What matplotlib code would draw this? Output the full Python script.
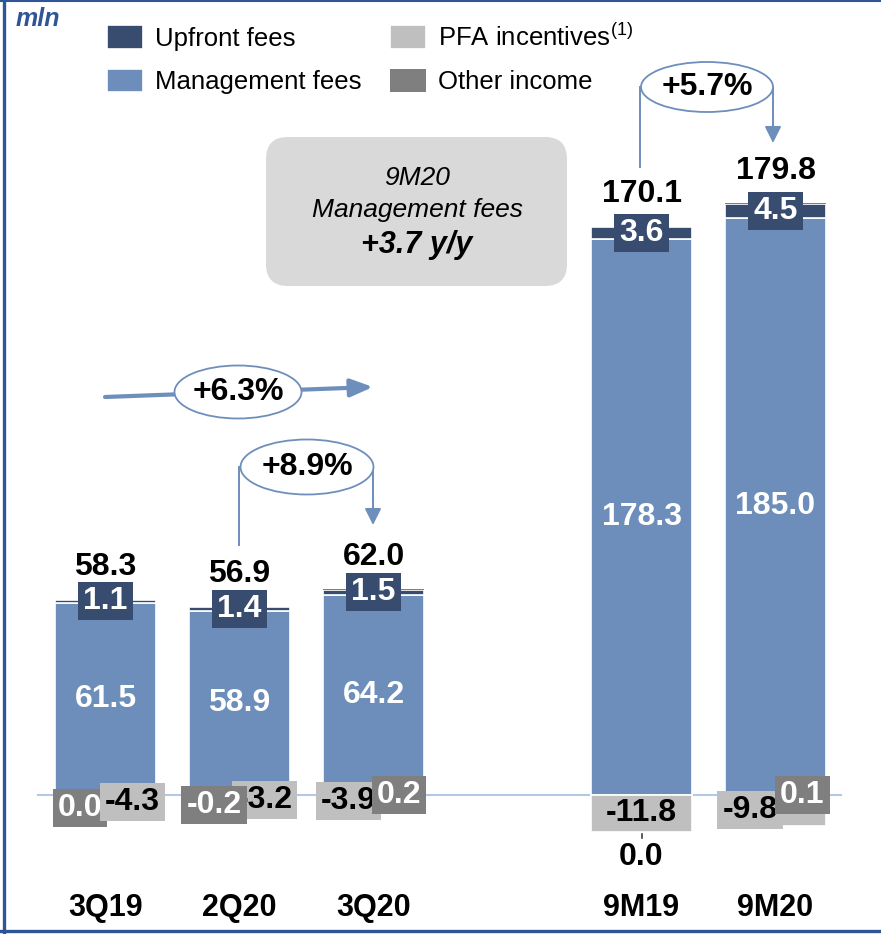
import matplotlib.pyplot as plt
from matplotlib.patches import Ellipse, FancyBboxPatch, Rectangle

plt.rcParams['font.family'] = ['Liberation Sans', 'DejaVu Sans']
plt.rcParams['mathtext.fontset'] = 'custom'
plt.rcParams['mathtext.rm'] = 'Liberation Sans'

# revenue breakdown, mln
periods = ['3Q19', '2Q20', '3Q20', '9M19', '9M20']
positions = [0, 1, 2, 4, 5]
management = [61.5, 58.9, 64.2, 178.3, 185.0]
upfront = [1.1, 1.4, 1.5, 3.6, 4.5]
pfa = [-4.3, -3.2, -3.9, -11.8, -9.8]
other = [0.0, -0.2, 0.2, 0.0, 0.1]
totals = [round(m + u + p + o, 1) for m, u, p, o in zip(management, upfront, pfa, other)]

growth_q = '+6.3%'
growth_qq = '+8.9%'
growth_9m = '+5.7%'

c_up = '#374C6E'
c_mgmt = '#6D8EBA'
c_pfa = '#BFBFBF'
c_other = '#7F7F7F'
c_arrow = '#6E8EBB'
c_base = '#B4C7E7'
c_frame = '#2F5597'

W, H = 881, 934
fig = plt.figure(figsize=(W / 100, H / 100), dpi=100)
ax = fig.add_axes([0, 0, 1, 1])
step, ppu, x0, base = 134, 3.12, 105.5, 795
ax.set_xlim(-x0 / step, (W - x0) / step)
ax.set_ylim(-(H - base) / ppu, base / ppu)
ax.axis('off')

bw = 0.754
ax.axhline(0, xmin=38 / W, xmax=841 / W, color=c_base, lw=1.5, zorder=0)
b_mgmt = ax.bar(positions, management, bw, color=c_mgmt, edgecolor='white', lw=1.2, zorder=2)
b_up = ax.bar(positions, upfront, bw, bottom=management, color=c_up, edgecolor='white', lw=1.2, zorder=2)
b_pfa = ax.bar(positions, pfa, bw, color=c_pfa, edgecolor='white', lw=1.2, zorder=2)
other_bottom = [p if o <= 0 else m + u for m, u, p, o in zip(management, upfront, pfa, other)]
b_other = ax.bar(positions, other, bw, bottom=other_bottom, color=c_other, edgecolor='none', zorder=2)

boxes = []


def label(x, y, s, color, fc=None, z=5):
    t = ax.text(x, y, s, ha='center', va='center', fontsize=23, fontweight='bold',
                color=color, zorder=z + 0.5)
    if fc:
        boxes.append((t, fc, z))
    return t


pfa_dx = [0.2, 0.19, -0.19, 0, -0.19]
other_dx = [-0.19, -0.19, 0.19, 0, 0.2]
other_z = [4, 6, 6, 6, 6]

for i, x in enumerate(positions):
    m, u, p, o = management[i], upfront[i], pfa[i], other[i]
    label(x, m + u + 10.6, f'{totals[i]:.1f}', 'black')
    label(x, m / 2, f'{m:.1f}', 'white')
    label(x, m + u / 2, f'{u:.1f}', 'white', c_up)
    if i == 3:
        label(x, p / 2, f'{p:.1f}', 'black')
        label(x, p - 8.1, f'{o:.1f}', 'black')
        ax.plot([x, x], [p - 0.6, p - 1.9], color='#404040', lw=1.2)
    else:
        label(x + pfa_dx[i], p / 2, f'{p:.1f}', 'black', c_pfa, 5)
        oy = p + o / 2 if o <= 0 else o / 2
        label(x + other_dx[i], oy, f'{o:.1f}', 'white', c_other, other_z[i])
    ax.text(x, -(908 - base) / ppu, periods[i], ha='center', va='center',
            fontsize=22, fontweight='bold', color='black')

# boxes behind the value labels, sized from the rendered text
fig.canvas.draw()
renderer = fig.canvas.get_renderer()
inv = ax.transData.inverted()
for t, fc, z in boxes:
    bb = t.get_window_extent(renderer)
    (ax0, ay0) = inv.transform((bb.x0 - 5, bb.y0 - 4))
    (ax1, ay1) = inv.transform((bb.x1 + 5, bb.y1 + 4))
    ax.add_patch(Rectangle((ax0, ay0), ax1 - ax0, ay1 - ay0, facecolor=fc,
                           edgecolor='none', zorder=z))

leg = ax.legend([b_up, b_mgmt, b_pfa, b_other],
                ['Upfront fees', 'Management fees', r'PFA incentives$^{\rm (1)}$', 'Other income'],
                ncol=2, loc='upper left', bbox_to_anchor=(107 / W, 1 - 23 / H),
                bbox_transform=fig.transFigure, frameon=False, fontsize=18.5,
                borderpad=0, borderaxespad=0, handlelength=1.4, handleheight=1.01,
                handletextpad=0.47, columnspacing=1.09, labelspacing=0.7)

# overlay in pixel units for frame and callouts
ov = fig.add_axes([0, 0, 1, 1])
ov.set_xlim(0, W)
ov.set_ylim(H, 0)
ov.axis('off')
ov.patch.set_visible(False)

ov.plot([3.5, 3.5], [0, H], color=c_frame, lw=2.4)
ov.plot([0, W], [0.8, 0.8], color=c_frame, lw=1.5)
ov.plot([0, W], [930.5, 930.5], color=c_frame, lw=2.4)
ov.text(16, 19, 'mln', fontsize=18, fontweight='bold', fontstyle='italic',
        color=c_frame, va='center', ha='left')

ov.add_patch(FancyBboxPatch((266, 137), 301, 149, boxstyle='round,pad=0,rounding_size=22',
                            facecolor='#D9D9D9', edgecolor='none'))
ov.text(417, 178, '9M20', fontsize=19, fontstyle='italic', ha='center', va='center')
ov.text(417, 210, 'Management fees', fontsize=19, fontstyle='italic', ha='center', va='center')
ov.text(417, 245, '+3.7 y/y', fontsize=22, fontstyle='italic', fontweight='bold',
        ha='center', va='center')

thick = dict(arrowstyle='-|>,head_length=0.9,head_width=0.36', lw=3, color=c_arrow,
             shrinkA=0, shrinkB=0, mutation_scale=15)
thin = dict(arrowstyle='-|>,head_length=1.0,head_width=0.5', lw=1.4, color=c_arrow,
            shrinkA=0, shrinkB=0, mutation_scale=10)

# year on year quarter callout
ov.annotate('', xy=(373, 387), xytext=(105, 397), arrowprops=thick)
ov.add_patch(Ellipse((238, 392), 127, 53, facecolor='white', edgecolor=c_arrow, lw=1.3, zorder=3))
ov.text(238, 392, growth_q, fontsize=23, fontweight='bold', ha='center', va='center', zorder=4)

# 2Q20 -> 3Q20 callout
ov.plot([239, 239], [467, 545], color=c_arrow, lw=1.4)
ov.annotate('', xy=(373, 525), xytext=(373, 467), arrowprops=thin)
ov.add_patch(Ellipse((307, 467), 133, 55, facecolor='white', edgecolor=c_arrow, lw=1.3, zorder=3))
ov.text(307, 467, growth_qq, fontsize=23, fontweight='bold', ha='center', va='center', zorder=4)

# 9M19 -> 9M20 callout
ov.plot([640, 640], [87, 167], color=c_arrow, lw=1.4)
ov.annotate('', xy=(773, 143), xytext=(773, 87), arrowprops=thin)
ov.add_patch(Ellipse((707, 87), 132, 50, facecolor='white', edgecolor=c_arrow, lw=1.3, zorder=3))
ov.text(707, 87, growth_9m, fontsize=23, fontweight='bold', ha='center', va='center', zorder=4)

fig.savefig('out.png', dpi=100)
